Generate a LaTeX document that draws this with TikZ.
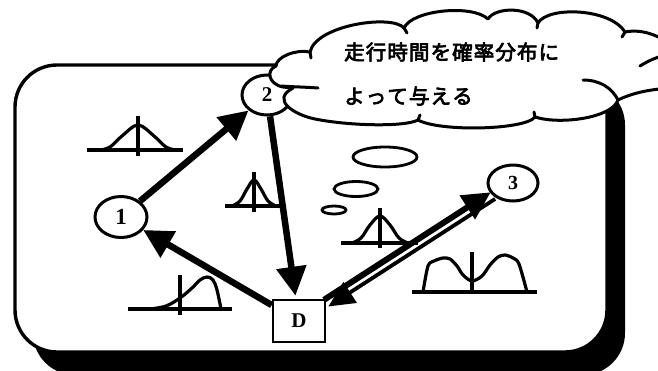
\documentclass[tikz,border=0pt]{standalone}
\usepackage{fontspec}
\setmainfont{Liberation Serif}
\newfontfamily\jpfont{Noto Sans CJK JP}[FakeBold=3.5]
\newcommand{\jc}[1]{\makebox[21.6pt][l]{#1}}
\usetikzlibrary{arrows.meta,shapes.geometric}
\begin{document}
\begin{tikzpicture}[x=1pt,y=-1pt,
  cloudline/.style={line width=3pt, line cap=round, line join=round},
  dist/.style={line width=3.2pt, line join=round},
  bub/.style={draw, line width=2.8pt},
  elnode/.style={ellipse, draw, line width=3pt, fill=white, inner sep=0pt, font=\bfseries\fontsize{21}{21}\selectfont},
  bigarrow/.style={line width=6.5pt, -{Triangle[length=29pt,width=29pt]}},
  jptext/.style={anchor=west, inner sep=0pt, font=\jpfont\fontsize{20.5}{20.5}\selectfont}
]
\clip (0,0) rectangle (658,370);
% frame with shadow
\fill[black, rounded corners=42pt] (33,83) rectangle (625,375);
\draw[line width=3.4pt, fill=white, rounded corners=42pt] (15,65) rectangle (607,352);

% distribution 1 (top-left bell)
\draw[dist] (87,150) -- (183,150);
\draw[dist] (138,116) -- (138,156);
\draw[dist] plot[smooth, tension=0.6] coordinates {(100,150) (110,147) (122,136) (138,125) (154,136) (166,147) (176,150)};
% distribution 2 (small bell)
\draw[dist] (225,206) -- (280,206);
\draw[dist] (254,172) -- (254,212);
\draw[dist] plot[smooth, tension=0.6] coordinates {(232,206) (240,201) (247,189) (254,180) (261,189) (268,201) (276,206)};
% distribution 3 (right bell)
\draw[dist] (341,243) -- (418,243);
\draw[dist] (380,208) -- (380,248);
\draw[dist] plot[smooth, tension=0.6] coordinates {(352,243) (361,238) (370,225) (380,216) (390,225) (399,238) (408,243)};
% distribution 4 (skewed)
\draw[dist] (128,309) -- (232,309);
\draw[dist] (180,275) -- (180,315);
\draw[dist] plot[smooth, tension=0.6] coordinates {(150,309) (166,306) (180,298) (192,288) (200,280) (207,277) (213,280) (217,290) (221,309)};
% distribution 5 (bimodal)
\draw[dist] (412,292) -- (537,292);
\draw[dist] (472,252) -- (472,292);
\draw[dist] plot[smooth, tension=0.5] coordinates {(423,292) (428,266) (434,261) (443,258) (450,259) (457,266) (463,275) (472,281) (482,276) (490,265) (498,257) (505,255) (513,258) (519,264) (527,292)};

% thought bubbles
\draw[bub] (385,157) ellipse [x radius=32, y radius=10];
\draw[bub] (356,189) ellipse [x radius=22, y radius=7.5];
\draw[bub] (334,210) ellipse [x radius=12, y radius=4];

% nodes
\node[elnode, minimum width=52pt, minimum height=41pt, font=\bfseries\fontsize{23}{23}\selectfont] (n1) at (121,217) {1};
\node[elnode, minimum width=50pt, minimum height=40pt] (n2) at (267,95) {2};
\node[elnode, minimum width=50pt, minimum height=36pt, font=\bfseries\fontsize{20}{20}\selectfont] (n3) at (513,183) {3};
\node[draw, line width=2.6pt, fill=white, minimum width=52pt, minimum height=42pt, inner sep=0pt, font=\bfseries\fontsize{21}{21}\selectfont] (D) at (299,321) {D};

% connectors
\draw[bigarrow] (n1) -- (n2);
\draw[bigarrow, shorten >=3pt] (n2) -- (D);
\draw[bigarrow] (D) -- (n1);
\draw[line width=3.8pt, -{Triangle[length=26pt,width=24pt]}, transform canvas={shift={(2,3.1)}}] (n3) -- (D);
\draw[line width=6pt, -{Triangle[length=28pt,width=27pt]}, transform canvas={shift={(-2.3,-3.6)}}] (D) -- (n3);

% cloud
\path[cloudline, draw, fill=white]
 (276,66) .. controls (276,57) and (296,49) .. (310,52)
 .. controls (316,25) and (392,14) .. (404,28)
 .. controls (412,10) and (472,4) .. (488,19)
 .. controls (495,7) and (530,6) .. (538,23)
 .. controls (548,6) and (610,8) .. (625,32)
 .. controls (645,28) and (665,38) .. (680,52)
 -- (680,88)
 .. controls (650,88) and (630,94) .. (618,100)
 .. controls (612,118) and (560,125) .. (535,117)
 .. controls (525,130) and (440,132) .. (418,120)
 .. controls (405,127) and (350,126) .. (315,119)
 .. controls (295,115) and (270,100) .. (293,88)
 -- (283,87)
 .. controls (268,84) and (266,70) .. (276,66) -- cycle;
\draw[cloudline] (281,86) .. controls (295,87) and (305,87) .. (318,88);
\draw[cloudline] (583,80) .. controls (600,80) and (612,88) .. (618,100);
\draw[cloudline] (640,66) .. controls (648,61) and (655,58) .. (662,56);
\draw[cloudline] (310,52) -- (311,58);
\draw[cloudline] (404,28) -- (407,33);
\draw[cloudline] (538,23) -- (537,28);
\draw[cloudline] (625,32) -- (622,37);
\draw[cloudline] (535,117) -- (534,112);
\draw[cloudline] (418,120) -- (420,115);

\node[jptext] (t1) at (344,52) {\jc{走}\jc{行}\jc{時}\jc{間}\jc{を}\jc{確}\jc{率}\jc{分}\jc{布}\jc{に}};
\node[jptext] (t2) at (344,96) {\jc{よ}\jc{っ}\jc{て}\jc{与}\jc{え}\jc{る}};
\end{tikzpicture}
\end{document}
